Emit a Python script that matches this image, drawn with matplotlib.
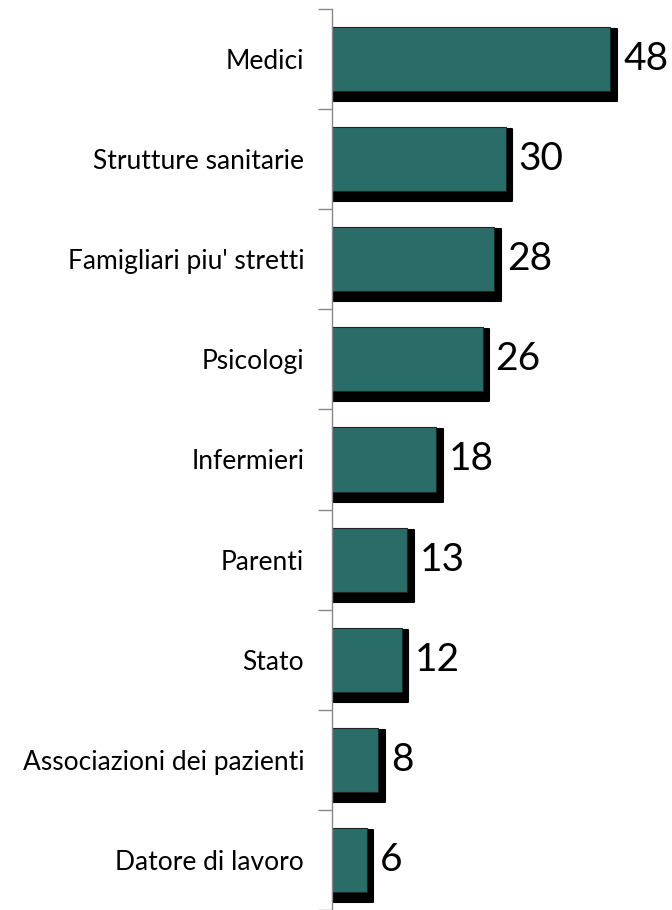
import matplotlib
matplotlib.use("Agg")
import matplotlib.pyplot as plt

categories = ["Medici", "Strutture sanitarie", "Famigliari piu' stretti", "Psicologi",
              "Infermieri", "Parenti", "Stato", "Associazioni dei pazienti", "Datore di lavoro"]
values = [48, 30, 28, 26, 18, 13, 12, 8, 6]

plt.rcParams['font.family'] = ['Lato', 'DejaVu Sans']

fig = plt.figure(figsize=(6.72, 9.10), dpi=100)
ax = fig.add_axes([332 / 672, 0, 340 / 672, 901 / 910])

pos = list(range(len(categories)))
# black drop shadow, drawn behind the bars (shifted right and down)
ax.barh([p + 0.06 for p in pos], [v + 1.1 for v in values], height=0.72, color="black",
        edgecolor="black", linewidth=1.5, joinstyle="round", zorder=1)
ax.barh(pos, values, height=0.64, color="#2A6D68", edgecolor="#222222", linewidth=0.8, zorder=2)

for y, v in zip(pos, values):
    ax.text(v + 2.2, y, str(v), va="center", ha="left", fontsize=28, color="black")

ax.set_xlim(0, 340 / 5.8)
ax.set_ylim(8.465, -0.5)

ax.set_yticks(pos)
ax.set_yticklabels(categories, fontsize=19)
ax.tick_params(axis="y", which="major", length=0, pad=20)
ax.set_yticks([p - 0.5 for p in pos] + [8.5], minor=True)
ax.tick_params(axis="y", which="minor", length=10, color="#888888", width=1)
ax.set_xticks([])

for s in ["top", "right", "bottom"]:
    ax.spines[s].set_visible(False)
ax.spines["left"].set_color("#888888")
ax.spines["left"].set_linewidth(1)
ax.spines["left"].set_zorder(3)

fig.savefig("out.png", dpi=100)
